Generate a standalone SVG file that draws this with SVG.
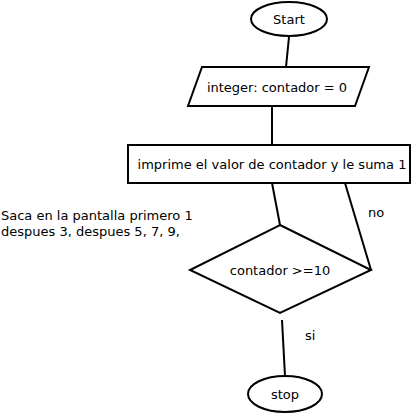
<svg xmlns="http://www.w3.org/2000/svg" width="418" height="416" viewBox="0 0 418 416">
<style>
.s{fill:#fff;stroke:#000;stroke-width:2}
.l{fill:none;stroke:#000;stroke-width:2}
text{font-family:"DejaVu Sans",sans-serif;font-size:13px;fill:#000}
.c{text-anchor:middle}
</style>
<rect width="418" height="416" fill="#fff"/>
<g id="connectors">
<line class="l" x1="289" y1="37" x2="286" y2="67"/>
<line class="l" x1="272" y1="107" x2="272" y2="145"/>
<line class="l" x1="272" y1="183" x2="280" y2="225"/>
<line class="l" x1="345" y1="183" x2="371" y2="270"/>
<line class="l" x1="282" y1="320" x2="285" y2="376"/>
<text x="368" y="217">no</text>
<text x="305" y="340">si</text>
</g>
<g id="start">
<ellipse class="s" cx="289" cy="19" rx="38" ry="17"/>
<text class="c" x="289" y="24">Start</text>
</g>
<g id="init">
<polygon class="s" points="202,67 369,67 355,106 188,106"/>
<text class="c" x="277" y="92">integer: contador = 0</text>
</g>
<g id="print">
<rect class="s" x="128" y="145" width="282" height="38"/>
<text class="c" x="272" y="169">imprime el valor de contador y le suma 1</text>
</g>
<g id="decision">
<polygon class="s" points="280,225 371,270 280,313 190,270"/>
<text class="c" x="280" y="275">contador &gt;=10</text>
</g>
<g id="stop">
<ellipse class="s" cx="285" cy="394" rx="37" ry="18"/>
<text class="c" x="285" y="399">stop</text>
</g>
<g id="note">
<text x="1" y="220">Saca en la pantalla primero 1</text>
<text x="1" y="236">despues 3, despues 5, 7, 9,</text>
</g>
</svg>
